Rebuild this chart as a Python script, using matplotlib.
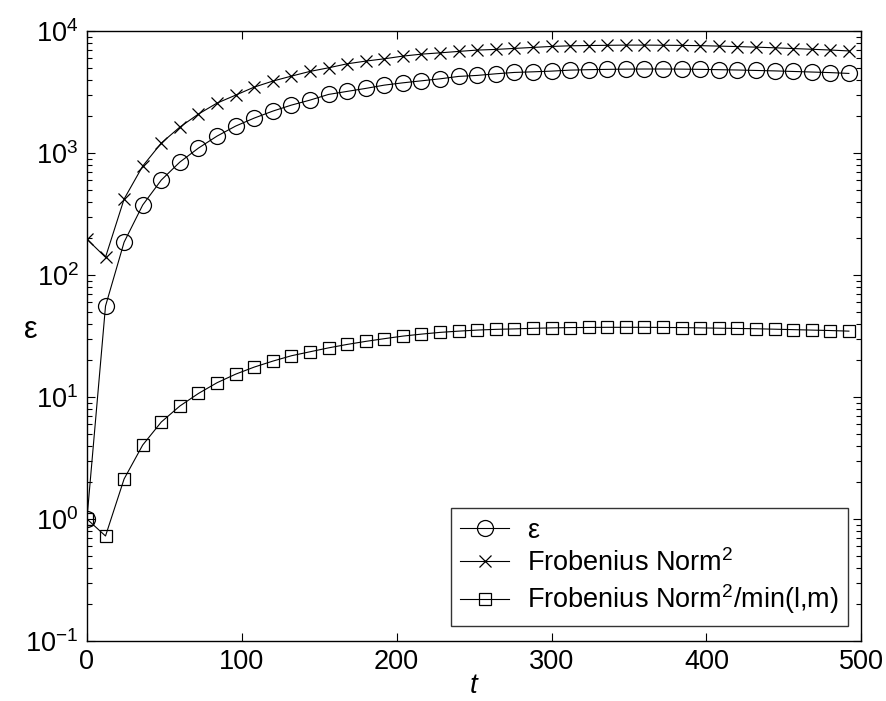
# epsilon vs t, log scale, three series
import numpy as np
import matplotlib
matplotlib.use('Agg')
import matplotlib.pyplot as plt
from matplotlib.ticker import LogLocator, NullFormatter, LogFormatterMathtext

plt.rcParams['font.family'] = ['Liberation Sans', 'DejaVu Sans']
plt.rcParams['mathtext.fontset'] = 'custom'
plt.rcParams['mathtext.rm'] = 'Liberation Sans'
plt.rcParams['mathtext.it'] = 'Liberation Sans:italic'

# data
t = np.arange(0, 493, 12)

eps = [1.0, 55.7, 186, 375, 601, 844, 1099, 1378, 1665, 1936, 2209,
       2474, 2718, 3027, 3205, 3391, 3608, 3768, 3914, 4064, 4253,
       4334, 4468, 4585, 4638, 4700, 4790, 4830, 4860, 4880, 4890,
       4890, 4880, 4860, 4830, 4800, 4760, 4720, 4670, 4620, 4570, 4500]

frob = [197, 140, 420, 782, 1208, 1634, 2089, 2570, 2985, 3475, 3893,
        4276, 4674, 5003, 5396, 5678, 5930, 6240, 6475, 6637, 6819,
        6990, 7080, 7215, 7350, 7490, 7580, 7620, 7650, 7680, 7680,
        7660, 7640, 7600, 7540, 7470, 7390, 7300, 7200, 7100, 7000, 6880]

frob_min = [1.0, 0.726, 2.13, 4.04, 6.24, 8.44, 10.7, 13.1, 15.4, 17.6, 19.7,
            21.8, 23.5, 25.3, 27.0, 28.6, 30.1, 31.6, 32.8, 33.9, 34.7,
            35.4, 35.9, 36.2, 36.6, 36.9, 37.1, 37.2, 37.3, 37.3, 37.3,
            37.2, 37.1, 36.9, 36.7, 36.5, 36.3, 36.0, 35.7, 35.4, 35.1, 34.7]

fig = plt.figure(figsize=(8.87, 7.01), dpi=100)
ax = fig.add_axes([0.098, 0.0856, 0.873, 0.870])

lw = 0.8
ax.plot(t, eps, 'k-', marker='o', markersize=11.5, markerfacecolor='none',
        markeredgewidth=0.9, linewidth=lw, label='ε')
ax.plot(t, frob, 'k-', marker='x', markersize=9, markeredgewidth=0.9,
        linewidth=lw, label='Frobenius Norm$^2$')
ax.plot(t, frob_min, 'k-', marker='s', markersize=9, markerfacecolor='none',
        markeredgewidth=0.9, linewidth=lw, label='Frobenius Norm$^2$/min(l,m)')

ax.set_yscale('log')
ax.set_xlim(0, 500)
ax.set_ylim(0.1, 1e4)
ax.set_xticks([0, 100, 200, 300, 400, 500])
ax.yaxis.set_major_locator(LogLocator(base=10, numticks=10))
ax.yaxis.set_major_formatter(LogFormatterMathtext())
ax.yaxis.set_minor_locator(LogLocator(base=10, subs=np.arange(2, 10), numticks=20))
ax.yaxis.set_minor_formatter(NullFormatter())

ax.tick_params(which='both', direction='in', top=True, right=True,
               labelsize=19.5, width=0.8)
ax.tick_params(which='major', length=6, pad=6)
ax.tick_params(which='minor', length=3.5)
for s in ax.spines.values():
    s.set_linewidth(1.0)

ax.set_xlabel('$t$', fontsize=20, labelpad=-2)
ax.set_ylabel('ε', fontsize=22, rotation=0, ha='center', va='center')
ax.yaxis.set_label_coords(-0.073, 0.51)

leg = ax.legend(loc='lower right', fontsize=19.5, frameon=True, fancybox=False,
                edgecolor='black', handlelength=1.8, handletextpad=0.65,
                labelspacing=0.2, borderpad=0.35, borderaxespad=0.3,
                bbox_to_anchor=(0.9935, 0.012))
leg.get_frame().set_linewidth(1.0)

fig.savefig('out.png', dpi=100)
